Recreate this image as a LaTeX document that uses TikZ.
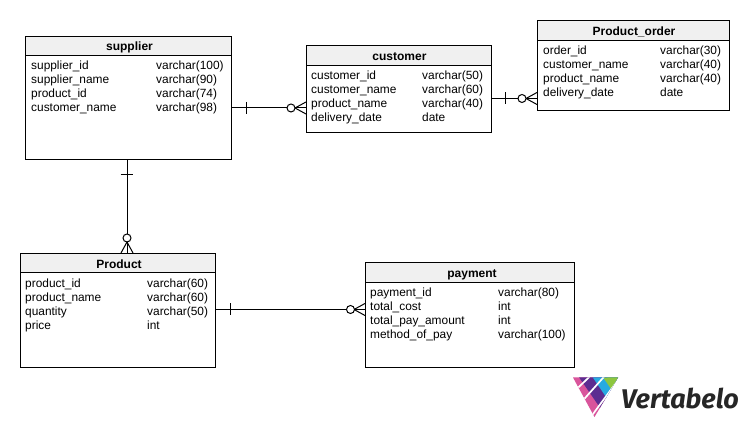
\documentclass[tikz,border=0pt]{standalone}
\usepackage{fontspec}
\setmainfont{Liberation Sans}
\newfontfamily\logofont{Fira Sans}
\definecolor{lmag}{HTML}{D9549B}
\definecolor{lpur}{HTML}{5C2D91}
\definecolor{lblu}{HTML}{27AAE1}
\definecolor{lgrn}{HTML}{8DC63F}
\tikzset{
  x=1pt,y=-1pt,
  tbl/.style={draw=black,line width=1pt,fill=white,anchor=north west,inner sep=0pt,rectangle},
  hdr/.style={draw=black,line width=1pt,fill=black!6,anchor=north west,inner sep=0pt,rectangle},
  ttl/.style={font=\fontsize{12}{14}\selectfont\bfseries,inner sep=0pt,anchor=base},
  col/.style={font=\fontsize{11.9}{14}\selectfont,inner sep=0pt,anchor=base west},
  rel/.style={line width=1pt,draw=black},
  gap/.style={white,line width=1.7pt},
}
\newcommand{\entity}[6]{%
  \node[tbl,minimum width=#4pt-#2pt,minimum height=#5pt-#3pt] (#1) at (#2,#3) {};
  \node[hdr,minimum width=#4pt-#2pt,minimum height=#6pt-#3pt] (#1h) at (#2,#3) {};
}
\begin{document}
\begin{tikzpicture}
\useasboundingbox (0,0) rectangle (748,427);
\fill[white] (0,0) rectangle (748,427);

\entity{supplier}{25}{36}{231}{159}{55}
\node[ttl] (supplierT) at (129.5,51) {supplier};
\node[col] (s1a) at (31,70) {supplier\_id};     \node[col] (s1b) at (156,70) {varchar(100)};
\node[col] (s2a) at (31,84) {supplier\_name};   \node[col] (s2b) at (156,84) {varchar(90)};
\node[col] (s3a) at (31,98) {product\_id};      \node[col] (s3b) at (156,98) {varchar(74)};
\node[col] (s4a) at (31,112) {customer\_name};  \node[col] (s4b) at (156,112) {varchar(98)};

\entity{customer}{306}{45}{491}{132}{65}
\node[ttl] (customerT) at (399.5,61) {customer};
\node[col] (c1a) at (311,80) {customer\_id};    \node[col] (c1b) at (422,80) {varchar(50)};
\node[col] (c2a) at (311,94) {customer\_name};  \node[col] (c2b) at (422,94) {varchar(60)};
\node[col] (c3a) at (311,108) {product\_name};  \node[col] (c3b) at (422,108) {varchar(40)};
\node[col] (c4a) at (311,122) {delivery\_date}; \node[col] (c4b) at (422,122) {date};

\entity{order}{537}{20}{729}{110}{40}
\node[ttl] (orderT) at (634,36) {Product\_order};
\node[col] (o1a) at (543,55) {order\_id};       \node[col] (o1b) at (660,55) {varchar(30)};
\node[col] (o2a) at (543,69) {customer\_name};  \node[col] (o2b) at (660,69) {varchar(40)};
\node[col] (o3a) at (543,83) {product\_name};   \node[col] (o3b) at (660,83) {varchar(40)};
\node[col] (o4a) at (543,97) {delivery\_date};  \node[col] (o4b) at (660,97) {date};

\entity{product}{20}{253}{215}{367}{272}
\node[ttl] (productT) at (119,269) {Product};
\node[col] (r1a) at (25,288) {product\_id};     \node[col] (r1b) at (147,288) {varchar(60)};
\node[col] (r2a) at (25,302) {product\_name};   \node[col] (r2b) at (147,302) {varchar(60)};
\node[col] (r3a) at (25,316) {quantity};        \node[col] (r3b) at (147,316) {varchar(50)};
\node[col] (r4a) at (25,330) {price};           \node[col] (r4b) at (147,330) {int};

\entity{payment}{365}{262}{574}{367}{282}
\node[ttl] (paymentT) at (472,278) {payment};
\node[col] (y1a) at (370,297) {payment\_id};      \node[col] (y1b) at (498,297) {varchar(80)};
\node[col] (y2a) at (370,311) {total\_cost};      \node[col] (y2b) at (498,311) {int};
\node[col] (y3a) at (370,325) {total\_pay\_amount}; \node[col] (y3b) at (498,325) {int};
\node[col] (y4a) at (370,339) {method\_of\_pay};  \node[col] (y4b) at (498,339) {varchar(100)};

% relationships
\coordinate (e1a) at (supplier.east |- 0,108);
\coordinate (e1b) at (customer.west |- 0,108);
\draw[rel] (e1a) -- (e1b);
\draw[rel] (246,102) -- (246,114);
\draw[rel] (306,102) -- (295,108) -- (306,114);
\draw[rel,fill=white] (291,108) circle (4);

\coordinate (e2a) at (customer.east |- 0,98.5);
\coordinate (e2b) at (order.west |- 0,98.5);
\draw[rel] (e2a) -- (e2b);
\draw[rel] (505,92.5) -- (505,104.5);
\draw[rel] (537,92.5) -- (526,98.5) -- (537,104.5);
\draw[rel,fill=white] (522,98.5) circle (4);

\coordinate (e3a) at (supplier.south -| 127,0);
\coordinate (e3b) at (product.north -| 127,0);
\draw[rel] (e3a) -- (e3b);
\draw[rel] (120.5,174.5) -- (133,174.5);
\draw[rel] (121,253) -- (127,242) -- (133,253);
\draw[rel,fill=white] (127,238) circle (4);

\coordinate (e4a) at (product.east |- 0,309.5);
\coordinate (e4b) at (payment.west |- 0,309.5);
\draw[rel] (e4a) -- (e4b);
\draw[rel] (230,303.5) -- (230,315.5);
\draw[rel] (365,303.5) -- (354,309.5) -- (365,315.5);
\draw[rel,fill=white] (350.5,309.5) circle (4);

% logo
\begin{scope}
\clip (573,377.5) -- (618,377.5) -- (594.5,417) -- cycle;
\fill[lmag] (570,375) rectangle (620,420);
\fill[lpur] (579.3,377.7) -- (572,367) -- (625,367) -- (625,420) -- (608,428) -- (599.3,406.7) -- cycle;
\fill[lblu] (593,377.7) -- (586,367) -- (625,367) -- (625,425) -- (612,406) -- cycle;
\fill[lgrn] (603.3,377.7) -- (618.5,377) -- (616.7,381.7) -- (611.2,389.2) -- cycle;
\draw[gap] (576.7,389) -- (589.3,377);
\draw[gap] (583.3,400) -- (603.8,377);
\draw[gap] (592.3,415) -- (617.5,380.7);
\end{scope}
\node[inner sep=0pt,anchor=base west,text=black!85,font=\logofont\fontsize{27}{30}\selectfont\bfseries\itshape] (logo) at (621,408.5) {Vertabelo};
\end{tikzpicture}
\end{document}
